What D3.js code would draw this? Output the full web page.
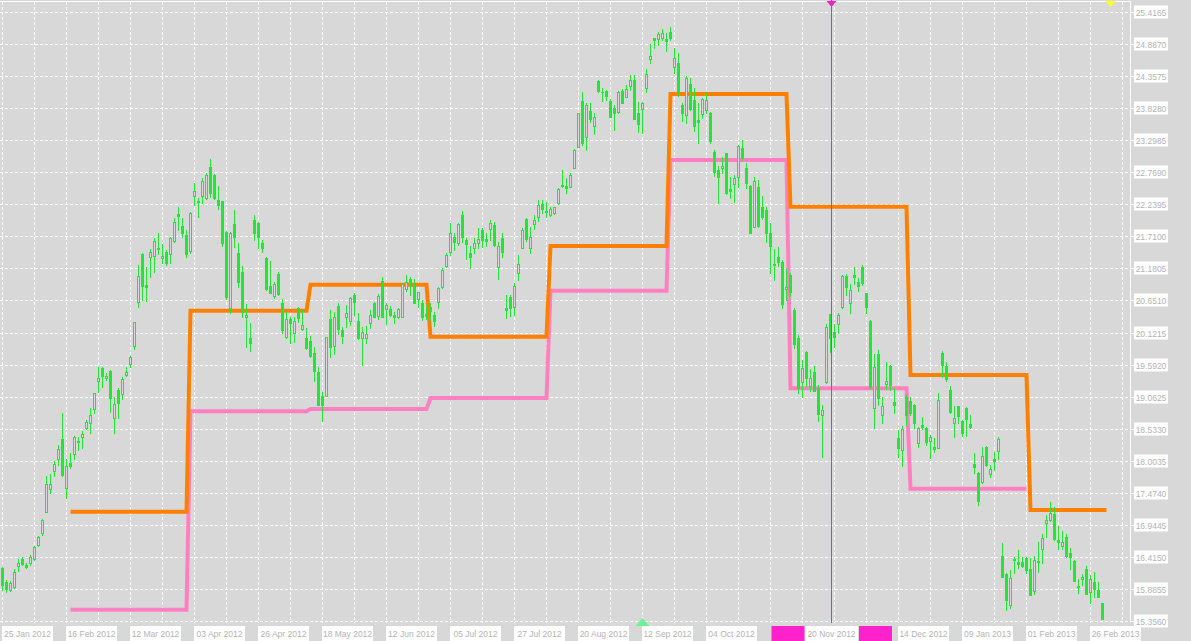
<!DOCTYPE html>
<html><head><meta charset="utf-8">
<script src="https://cdn.jsdelivr.net/npm/d3@7"></script>
<style>html,body{margin:0;padding:0;background:#d8d8d8;overflow:hidden}svg{display:block}</style>
</head><body><svg id="c" width="1191" height="641"></svg>
<script>
const open=[16.23,16.00,15.87,15.92,16.26,16.38,16.28,16.31,16.38,16.61,
16.81,17.16,17.54,17.83,18.03,18.36,17.55,17.97,18.11,18.31,
18.39,18.54,18.63,18.86,19.32,19.53,19.37,19.48,18.71,19.17,
19.11,19.42,19.60,19.90,20.63,21.42,20.91,21.37,21.39,21.52,
21.35,21.45,21.42,21.63,22.08,21.88,21.73,21.47,22.38,22.29,
22.38,22.34,22.86,22.72,22.31,22.29,21.78,20.53,21.91,21.43,
21.12,20.38,20.03,21.98,21.93,21.60,21.35,20.89,20.72,21.09,
20.61,20.05,20.34,20.11,20.53,20.18,20.03,19.98,19.78,19.47,
19.07,19.07,20.34,19.90,20.56,20.16,20.38,20.31,20.74,20.31,
20.03,20.03,20.28,20.61,20.39,20.97,20.51,20.51,20.41,20.38,
20.38,20.84,21.01,20.92,20.68,20.61,20.43,20.54,20.41,20.62,
20.87,21.22,21.45,21.70,21.60,22.06,21.65,21.43,21.52,21.60,
21.82,21.67,21.83,21.90,21.20,21.68,20.53,20.71,20.54,21.10,
21.52,22.00,21.52,21.91,22.03,22.24,22.13,22.06,22.10,22.26,
22.54,22.54,22.52,22.84,23.19,23.95,23.35,23.78,23.53,24.28,
24.10,24.11,23.95,23.83,23.76,24.11,24.01,24.19,24.29,23.75,
23.82,24.16,24.64,24.99,24.97,24.99,24.97,25.09,24.51,24.57,
23.88,23.71,24.23,23.96,23.63,23.73,23.80,23.75,23.10,22.81,
22.84,23.09,22.49,22.58,22.69,23.17,22.84,22.54,21.86,22.53,
22.19,22.15,21.77,21.25,21.37,21.29,20.84,21.07,20.49,20.03,
19.30,19.80,19.24,19.47,19.20,18.76,19.30,20.43,20.13,20.26,
20.54,21.05,20.61,21.07,20.96,21.20,20.77,20.31,18.87,19.77,
18.76,19.27,19.57,18.97,18.38,18.18,19.06,18.99,18.92,18.30,
18.59,18.54,18.33,18.23,18.21,19.78,19.57,19.17,18.63,18.91,
18.66,18.87,18.61,17.95,17.80,17.65,18.23,17.78,18.03,18.16,
16.43,16.13,15.62,16.36,16.33,16.33,16.40,16.21,15.85,16.33,
16.54,16.98,17.02,17.12,16.69,16.59,16.74,16.48,16.35,15.93,
16.05,16.21,15.83,16.00,15.87,15.65];
const high=[16.25,16.03,16.02,16.21,16.38,16.41,16.31,16.45,16.59,16.76,
17.04,17.75,17.78,18.00,18.26,18.79,18.03,18.13,18.41,18.39,
18.49,18.68,18.87,19.13,19.55,19.55,19.45,19.50,19.06,19.20,
19.39,19.55,19.73,20.30,21.24,21.44,21.20,21.50,21.68,21.77,
21.58,21.49,21.70,22.01,22.20,22.01,21.82,22.11,22.59,22.34,
22.67,22.76,22.99,22.74,22.54,22.30,21.80,21.78,22.15,21.60,
21.22,20.59,20.28,22.06,21.95,21.65,21.37,21.30,20.96,21.12,
20.68,20.46,20.38,20.38,20.54,20.49,20.20,20.06,19.88,19.55,
19.14,20.05,20.49,20.46,20.61,20.21,20.58,20.71,20.77,20.44,
20.21,20.23,20.49,20.63,20.76,21.04,20.61,20.56,20.46,20.53,
20.94,21.07,21.04,21.01,20.79,20.66,20.58,20.61,20.46,20.87,
21.19,21.43,21.93,21.77,21.93,22.13,21.68,21.55,21.68,21.85,
21.85,21.77,21.98,21.95,21.62,21.77,20.74,20.74,20.94,21.40,
21.85,22.01,21.86,22.06,22.31,22.31,22.28,22.20,22.20,22.51,
22.81,22.67,22.76,23.15,23.75,24.10,23.91,23.91,23.75,24.29,
24.16,24.13,23.98,23.88,24.11,24.14,24.21,24.38,24.38,23.93,
23.93,24.47,24.89,24.99,25.09,25.14,25.07,25.17,24.82,24.74,
23.91,24.36,24.33,24.16,23.91,23.99,24.08,23.77,23.14,22.87,
23.02,23.09,22.69,22.72,23.22,23.30,22.92,22.56,22.69,22.64,
22.38,22.20,21.93,21.50,21.53,21.32,21.19,21.10,20.53,20.08,
19.67,19.82,19.52,19.57,19.25,18.92,20.26,20.43,20.26,20.44,
21.07,21.09,20.92,21.20,21.02,21.24,20.77,20.33,19.77,19.83,
19.06,19.63,19.58,19.20,18.51,18.58,19.09,19.06,18.94,18.56,
18.73,18.56,18.43,18.38,19.12,19.82,19.63,19.24,18.91,18.91,
18.68,18.89,18.76,18.13,17.82,18.23,18.25,17.93,18.15,18.39,
16.64,16.15,16.20,16.41,16.53,16.41,16.41,16.40,16.43,16.66,
16.79,17.11,17.32,17.24,16.92,16.84,16.79,16.56,16.36,16.05,
16.13,16.26,16.12,16.17,16.00,15.65];
const low=[15.87,15.84,15.85,15.90,16.18,16.28,16.23,16.28,16.36,16.59,
16.78,17.15,17.47,17.75,17.93,17.75,17.39,17.88,18.03,18.18,
18.21,18.53,18.46,18.79,19.14,19.22,19.34,18.81,18.46,18.71,
19.02,19.40,19.55,19.85,20.54,20.66,20.64,21.04,21.12,21.42,
21.27,21.24,21.27,21.62,21.82,21.70,21.37,21.44,22.23,22.03,
22.26,22.33,22.36,22.33,22.16,21.55,20.67,20.44,21.53,20.87,
20.38,19.88,19.82,21.65,21.52,21.45,20.82,20.77,20.69,20.74,
20.11,20.03,19.95,19.96,20.29,20.16,19.85,19.72,19.32,18.92,
18.66,19.07,19.72,19.77,20.10,19.95,20.21,20.25,20.41,20.01,
19.58,19.95,20.20,20.38,20.34,20.38,20.26,20.39,20.28,20.36,
20.38,20.81,20.74,20.61,20.54,20.33,20.34,20.33,20.23,20.53,
20.86,21.20,21.40,21.49,21.57,21.62,21.34,21.19,21.43,21.52,
21.53,21.55,21.65,21.55,21.01,21.37,20.36,20.39,20.41,20.99,
21.52,21.63,21.43,21.83,21.96,22.10,22.03,22.05,22.08,22.24,
22.53,22.42,22.52,22.84,23.19,23.22,23.14,23.60,23.40,24.10,
23.95,23.96,23.68,23.47,23.75,23.91,24.01,24.13,23.65,23.44,
23.42,24.10,24.57,24.82,24.87,24.95,24.77,24.95,24.41,24.03,
23.62,23.58,23.80,23.45,23.25,23.66,23.75,23.25,22.71,22.26,
22.76,22.41,22.34,22.28,22.53,22.97,22.51,21.77,21.86,21.86,
21.99,21.62,21.10,20.99,21.22,20.53,20.66,20.72,19.87,19.12,
19.06,19.24,19.16,19.16,18.66,18.07,19.29,19.80,19.88,20.11,
20.53,20.74,20.44,20.92,20.81,20.91,20.44,19.20,18.54,18.92,
18.63,19.19,19.17,18.79,18.07,17.92,18.59,18.76,18.54,18.23,
18.53,18.26,18.05,18.15,18.21,19.39,19.32,18.79,18.39,18.63,
18.41,18.41,18.54,17.80,17.27,17.63,17.91,17.73,17.85,18.03,
16.08,15.54,15.57,16.15,16.23,16.25,16.15,15.78,15.80,16.17,
16.31,16.74,17.01,16.69,16.54,16.54,16.41,16.21,16.02,15.82,
15.95,15.80,15.65,15.75,15.75,15.39];
const close=[15.95,15.88,15.98,16.17,16.31,16.30,16.25,16.41,16.58,16.74,
17.02,17.62,17.62,17.95,18.20,17.77,17.92,17.92,18.39,18.33,
18.44,18.64,18.76,19.12,19.37,19.40,19.40,19.04,18.94,18.96,
19.35,19.47,19.72,20.29,21.05,20.89,20.87,21.45,21.63,21.50,
21.39,21.27,21.68,21.95,22.05,21.77,21.42,22.10,22.46,22.28,
22.62,22.72,22.42,22.34,22.23,21.60,20.71,21.77,21.70,20.96,
20.46,20.41,19.95,21.77,21.70,21.52,20.84,20.77,20.92,20.76,
20.16,20.34,20.28,20.31,20.36,20.25,19.87,19.73,19.48,18.92,
18.92,20.05,19.88,20.38,20.18,20.06,20.44,20.69,20.63,20.03,
20.13,20.10,20.41,20.38,20.72,20.38,20.58,20.41,20.38,20.51,
20.92,20.96,20.91,20.61,20.79,20.38,20.39,20.48,20.31,20.86,
21.15,21.40,21.77,21.62,21.91,21.70,21.58,21.37,21.60,21.67,
21.65,21.63,21.93,21.57,21.55,21.45,20.49,20.53,20.89,21.25,
21.82,21.67,21.70,21.98,22.23,22.16,22.11,22.16,22.20,22.49,
22.56,22.51,22.72,23.14,23.75,23.25,23.88,23.65,23.68,24.11,
24.09,24.03,23.68,23.75,24.09,23.91,24.14,24.29,23.65,23.57,
23.91,24.39,24.69,24.95,25.05,25.07,24.94,24.99,24.66,24.05,
23.75,24.33,23.81,23.53,23.60,23.98,23.96,23.29,22.77,22.69,
22.87,22.43,22.46,22.67,23.20,23.00,22.59,21.77,22.62,21.88,
22.03,21.77,21.55,21.24,21.29,20.59,20.87,20.79,19.93,19.20,
19.53,19.37,19.37,19.16,18.77,18.84,20.21,20.03,20.05,20.41,
21.05,20.87,20.82,21.04,20.89,20.94,20.54,19.22,19.55,19.04,
18.91,19.32,19.25,18.92,18.21,18.53,18.76,18.79,18.63,18.54,
18.56,18.31,18.39,18.20,19.01,19.58,19.35,18.81,18.71,18.74,
18.46,18.69,18.56,17.90,17.34,18.08,17.93,17.87,18.00,18.36,
16.08,15.70,16.07,16.38,16.30,16.26,16.20,15.78,16.36,16.35,
16.73,17.02,17.14,16.71,16.66,16.66,16.43,16.41,16.02,15.92,
16.08,15.80,16.05,15.88,15.75,15.39];

// step levels, one value per 30-bar period starting at bar 17
const orangeLevels=[17.16,20.48,20.91,20.05,21.55,24.06,22.20,19.42,17.19];
const pinkLevels=[15.54,18.82,18.86,19.04,20.81,22.97,19.20,17.54];
const levelStart=17, levelPeriod=30;

const priceTicks=["25.4165","24.8870","24.3575","23.8280","23.2985","22.7690","22.2395","21.7100","21.1805","20.6510","20.1215","19.5920","19.0625","18.5330","18.0035","17.4740","16.9445","16.4150","15.8855","15.3560"];
const dateLabels=["25 Jan 2012","16 Feb 2012","12 Mar 2012","03 Apr 2012","26 Apr 2012","18 May 2012","12 Jun 2012","05 Jul 2012","27 Jul 2012","20 Aug 2012","12 Sep 2012","04 Oct 2012",null,null,"14 Dec 2012","09 Jan 2013","01 Feb 2013","26 Feb 2013"];
const dateStep=16;
const markerLabel="20 Nov 2012", markerBar=207;
const greenArrowBar=160, yellowArrowBar=277;

const W=1191,H=641,bg='#d8d8d8',green='#22e634';
const svg=d3.select('#c');
const x=d3.scaleLinear().domain([0,281]).range([1,1125]);
const y=d3.scaleLinear().domain([15.356,25.4165]).range([621,12]);
const cx=i=>x(i)+1.5;
const font='"Liberation Sans", Arial, sans-serif';

svg.append('rect').attr('width',W).attr('height',H).attr('fill',bg);

// grid
const grid=svg.append('g').attr('stroke','#ffffff').attr('stroke-width',1).attr('stroke-dasharray','3,2').attr('shape-rendering','crispEdges');
priceTicks.forEach(t=>{const gy=Math.round(y(+t))+0.5;
  grid.append('line').attr('x1',0).attr('x2',1130).attr('y1',gy).attr('y2',gy);});
d3.range(0,282,8).forEach(i=>{const gx=Math.floor(cx(i))+0.5;
  grid.append('line').attr('x1',gx).attr('x2',gx).attr('y1',2).attr('y2',623);});

// borders
svg.append('line').attr('x1',0).attr('x2',1131).attr('y1',1.5).attr('y2',1.5).attr('stroke','#fff').attr('shape-rendering','crispEdges');
svg.append('line').attr('x1',1130.5).attr('x2',1130.5).attr('y1',1).attr('y2',623).attr('stroke','#fff').attr('shape-rendering','crispEdges');

// level lines
function levelPoints(levels,lastBar){const pts=[];levels.forEach((v,k)=>{const s=levelStart+k*levelPeriod;const e=Math.min(s+levelPeriod-1,lastBar);pts.push([s,v],[e,v]);});return pts;}
const line=d3.line().x(d=>cx(d[0])).y(d=>y(d[1]));
svg.append('path').attr('d',line(levelPoints(pinkLevels,levelStart+pinkLevels.length*levelPeriod-1))).attr('fill','none').attr('stroke','#ff80c0').attr('stroke-width',4);
svg.append('path').attr('d',line(levelPoints(orangeLevels,open.length))).attr('fill','none').attr('stroke','#ff8000').attr('stroke-width',4);

// candles
const cg=svg.append('g').attr('shape-rendering','crispEdges');
open.forEach((o,i)=>{
  const c=close[i],hi=high[i],lo=low[i];
  const wx=Math.floor(cx(i))+0.5;
  cg.append('line').attr('x1',wx).attr('x2',wx).attr('y1',Math.round(y(hi))).attr('y2',Math.round(y(lo))+1).attr('stroke',green);
  const top=Math.round(y(Math.max(o,c))), bot=Math.round(y(Math.min(o,c)));
  if(c>o){
    cg.append('rect').attr('x',x(i)+0.5).attr('y',top+0.5).attr('width',2).attr('height',Math.max(1,bot-top)).attr('fill',bg).attr('stroke',green);
  } else {
    cg.append('rect').attr('x',x(i)).attr('y',top).attr('width',3).attr('height',Math.max(1,bot-top+1)).attr('fill',green);
  }
});

// vertical marker line
const vx=Math.floor(cx(markerBar))+1.5;
svg.append('line').attr('x1',vx).attr('x2',vx).attr('y1',0).attr('y2',623).attr('stroke','#ff1ec8').attr('stroke-width',1).attr('shape-rendering','crispEdges');
svg.append('path').attr('d',`M${vx-5},1L${vx+5},1L${vx},7Z`).attr('fill','#ff1ec8');
const yx=cx(yellowArrowBar);
svg.append('path').attr('d',`M${yx-5},1L${yx+5},1L${yx},7Z`).attr('fill','#ffff22');

// price axis labels
const pa=svg.append('g');
priceTicks.forEach(t=>{const gy=Math.round(y(+t))+0.5;
  pa.append('line').attr('x1',1131).attr('x2',1134).attr('y1',gy).attr('y2',gy).attr('stroke','#fff').attr('shape-rendering','crispEdges');
  pa.append('rect').attr('x',1134).attr('y',gy-7).attr('width',34).attr('height',13).attr('fill','#fff');
  pa.append('text').attr('x',1151).attr('y',gy+3).attr('text-anchor','middle').attr('font-family',font).attr('font-size','8.5px').attr('fill','#b4b4b4').text(t);
});

// date labels
const da=svg.append('g');
dateLabels.forEach((lab,k)=>{ if(!lab) return;
  const bx=x(k*dateStep)+1;
  da.append('rect').attr('x',bx).attr('y',626).attr('width',51).attr('height',15).attr('fill','#fff');
  da.append('text').attr('x',bx+25.5).attr('y',637).attr('text-anchor','middle').attr('font-family',font).attr('font-size','8.5px').attr('fill','#b4b4b4').text(lab);
});
// marker label
da.append('rect').attr('x',vx-60).attr('y',626).attr('width',33).attr('height',15).attr('fill','#ff22cc');
da.append('rect').attr('x',vx-26.5).attr('y',626).attr('width',53).attr('height',15).attr('fill','#fff');
da.append('rect').attr('x',vx+27.5).attr('y',626).attr('width',33).attr('height',15).attr('fill','#ff22cc');
da.append('text').attr('x',vx).attr('y',637).attr('text-anchor','middle').attr('font-family',font).attr('font-size','8.5px').attr('fill','#b4b4b4').text(markerLabel);

// green arrow at bottom
const gx=cx(greenArrowBar);
svg.append('path').attr('d',`M${gx-7},626L${gx+7},626L${gx},618Z`).attr('fill','#6cf39a');
</script></body></html>
